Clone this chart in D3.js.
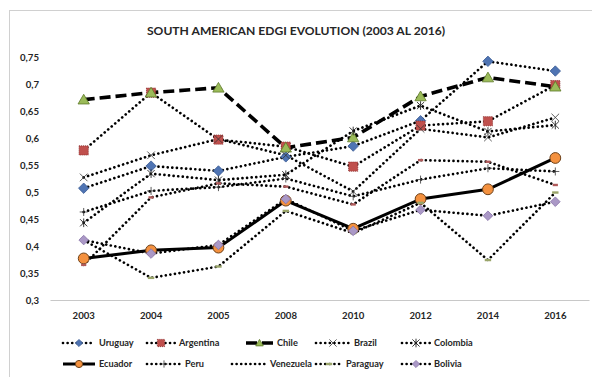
<!DOCTYPE html>
<html>
<head>
<meta charset="utf-8">
<script src="https://cdn.jsdelivr.net/npm/d3@7"></script>
<style>
  html, body { margin: 0; padding: 0; background: #fff; }
  svg { display: block; font-family: Lato, "Open Sans", sans-serif; }
</style>
</head>
<body>
<svg id="chart" width="592" height="377"></svg>
<script>
// E-Government Development Index, South America
const years = ["2003", "2004", "2005", "2008", "2010", "2012", "2014", "2016"];
const yTicks = [0.3, 0.35, 0.4, 0.45, 0.5, 0.55, 0.6, 0.65, 0.7, 0.75];

const uruguay   = [0.507, 0.548, 0.539, 0.565, 0.585, 0.632, 0.742, 0.724];
const argentina = [0.577, 0.684, 0.597, 0.584, 0.547, 0.623, 0.631, 0.698];
const chile     = [0.671, 0.684, 0.693, 0.582, 0.601, 0.677, 0.712, 0.695];
const brazil    = [0.527, 0.568, 0.598, 0.568, 0.501, 0.617, 0.601, 0.638];
const colombia  = [0.443, 0.534, 0.522, 0.532, 0.613, 0.660, 0.612, 0.624];
const ecuador   = [0.377, 0.392, 0.397, 0.484, 0.432, 0.487, 0.505, 0.563];
const peru      = [0.463, 0.502, 0.509, 0.525, 0.492, 0.523, 0.544, 0.538];
const venezuela = [0.365, 0.490, 0.516, 0.510, 0.477, 0.559, 0.556, 0.513];
const paraguay  = [0.411, 0.341, 0.362, 0.465, 0.424, 0.480, 0.374, 0.499];
const bolivia   = [0.411, 0.386, 0.402, 0.487, 0.428, 0.467, 0.456, 0.482];

const countries = ["Uruguay", "Argentina", "Chile", "Brazil", "Colombia",
                   "Ecuador", "Peru", "Venezuela", "Paraguay", "Bolivia"];
const seriesValues = [uruguay, argentina, chile, brazil, colombia,
                      ecuador, peru, venezuela, paraguay, bolivia];

// custom marker shapes for d3.symbol (size = half-width in px)
const diamond = { draw(c, r) { c.moveTo(0, -r); c.lineTo(r, 0); c.lineTo(0, r); c.lineTo(-r, 0); c.closePath(); } };
const square  = { draw(c, r) { c.rect(-r, -r, 2 * r, 2 * r); } };
const triangle = { draw(c, r) { c.moveTo(0, -r); c.lineTo(r * 1.05, r * 0.8); c.lineTo(-r * 1.05, r * 0.8); c.closePath(); } };
const circle  = { draw(c, r) { c.moveTo(r, 0); c.arc(0, 0, r, 0, 2 * Math.PI); } };
const xMark   = { draw(c, r) { c.moveTo(-r, -r); c.lineTo(r, r); c.moveTo(r, -r); c.lineTo(-r, r); } };
const star    = { draw(c, r) { c.moveTo(-r, -r); c.lineTo(r, r); c.moveTo(r, -r); c.lineTo(-r, r); c.moveTo(0, -r * 1.2); c.lineTo(0, r * 1.2); } };
const plus    = { draw(c, r) { c.moveTo(-r, 0); c.lineTo(r, 0); c.moveTo(0, -r); c.lineTo(0, r); } };
const dash    = { draw(c, r) { c.rect(-r, -1.2, 2 * r, 2.4); } };

const DOT = { dash: "0.01 4.6", width: 2.7, cap: "round" };
const styles = {
  Uruguay:   { line: DOT, shape: diamond,  r: 5.2, fill: "#4F74B3", stroke: "#3A5C94", sw: 0.8 },
  Argentina: { line: DOT, shape: square,   r: 4.6, fill: "#C0504D", stroke: "#8C2F2C", sw: 0.9, sdash: "1 1" },
  Chile:     { line: { dash: "11 5", width: 3.6, cap: "butt" }, shape: triangle, r: 5.4, fill: "#9BBB59", stroke: "#5E7A2A", sw: 0.8 },
  Brazil:    { line: DOT, shape: xMark,    r: 3.8, fill: "none", stroke: "#333", sw: 0.8 },
  Colombia:  { line: DOT, shape: star,     r: 3.6, fill: "none", stroke: "#222", sw: 0.9 },
  Ecuador:   { line: { dash: null, width: 3, cap: "butt" }, shape: circle, r: 5.4, fill: "#F4913F", stroke: "#6E421A", sw: 1 },
  Peru:      { line: DOT, shape: plus,     r: 4,   fill: "none", stroke: "#333", sw: 0.8 },
  Venezuela: { line: DOT, shape: dash,     r: 2.6, fill: "#B05A5A", stroke: "none", sw: 0 },
  Paraguay:  { line: DOT, shape: dash,     r: 3.2, fill: "#9AA56A", stroke: "none", sw: 0 },
  Bolivia:   { line: DOT, shape: diamond,  r: 4.8, fill: "#AA98C6", stroke: "#8874A8", sw: 0.8 }
};

const svg = d3.select("#chart");

// outer chart frame
svg.append("rect")
  .attr("x", 9.5).attr("y", 10.5)
  .attr("width", 620).attr("height", 420)
  .attr("fill", "#fff").attr("stroke", "#D0D0D0").attr("stroke-width", 1);

const x = d3.scaleBand().domain(years).range([50, 589]);
const y = d3.scaleLinear().domain([0.3, 0.75]).range([300, 57]);
const cx = d => x(d) + x.bandwidth() / 2;

// title
svg.append("text")
  .attr("x", 296).attr("y", 34.5)
  .attr("text-anchor", "middle")
  .attr("font-size", 12.1).attr("font-weight", 700)
  .attr("fill", "#262626")
  .text("SOUTH AMERICAN EDGI EVOLUTION (2003 AL 2016)");

// axes
const fmt = d => d3.format(".2~f")(d).replace(".", ",");
const yAxis = svg.append("g")
  .attr("transform", "translate(39,0)")
  .call(d3.axisLeft(y).tickValues(yTicks).tickFormat(fmt).tickSize(0).tickPadding(0));
yAxis.select(".domain").remove();
yAxis.selectAll("text")
  .attr("font-size", 9.6).attr("font-weight", 700).attr("fill", "#262626")
  .attr("font-family", "Lato, sans-serif");

const xAxis = svg.append("g")
  .attr("transform", "translate(0,300)")
  .call(d3.axisBottom(x).tickSize(0).tickPadding(12));
xAxis.select(".domain").attr("stroke", "#C8C8C8").attr("stroke-width", 1.2);
xAxis.selectAll("text")
  .attr("font-size", 9.6).attr("font-weight", 700).attr("fill", "#262626")
  .attr("font-family", "Lato, sans-serif");

// series lines
const line = d3.line().x((d, i) => cx(years[i])).y(d => y(d));
const plot = svg.append("g");
countries.forEach((name, k) => {
  const s = styles[name];
  plot.append("path")
    .datum(seriesValues[k])
    .attr("d", line)
    .attr("fill", "none")
    .attr("stroke", "#000")
    .attr("stroke-width", s.line.width)
    .attr("stroke-linecap", s.line.cap)
    .attr("stroke-linejoin", "round")
    .attr("stroke-dasharray", s.line.dash);
});

// series markers
function drawMarker(g, s, px, py) {
  g.append("path")
    .attr("transform", `translate(${px},${py})`)
    .attr("d", d3.symbol().type(s.shape).size(s.r))
    .attr("fill", s.fill)
    .attr("stroke", s.stroke)
    .attr("stroke-width", s.sw)
    .attr("stroke-dasharray", s.sdash || null);
}
countries.forEach((name, k) => {
  const s = styles[name];
  seriesValues[k].forEach((v, i) => drawMarker(plot, s, cx(years[i]), y(v)));
});

// legend: two rows of five entries
const legendCols = [[63, 99], [147, 179], [246, 277], [316, 354], [402, 434]];
const legendCols2 = [[63, 99], [147, 185], [232, 270], [316, 346], [402, 434]];
const legendRows = [343, 364];
const legend = svg.append("g");
countries.forEach((name, k) => {
  const row = Math.floor(k / 5), col = k % 5;
  const [x0, tx] = (row === 0 ? legendCols : legendCols2)[col];
  const ly = legendRows[row];
  const s = styles[name];
  const x1 = tx - 4;
  legend.append("line")
    .attr("x1", x0).attr("x2", x1).attr("y1", ly).attr("y2", ly)
    .attr("stroke", "#000")
    .attr("stroke-width", s.line.width)
    .attr("stroke-linecap", s.line.cap)
    .attr("stroke-dasharray", s.line.dash);
  if (name !== "Venezuela") {
    drawMarker(legend, Object.assign({}, s, { r: Math.min(s.r, 3.6) }), (x0 + x1) / 2, ly);
  }
  legend.append("text")
    .attr("x", tx).attr("y", ly).attr("dy", "0.35em")
    .attr("font-size", 9.2).attr("font-weight", 700).attr("fill", "#262626")
    .text(name);
});
</script>
</body>
</html>
